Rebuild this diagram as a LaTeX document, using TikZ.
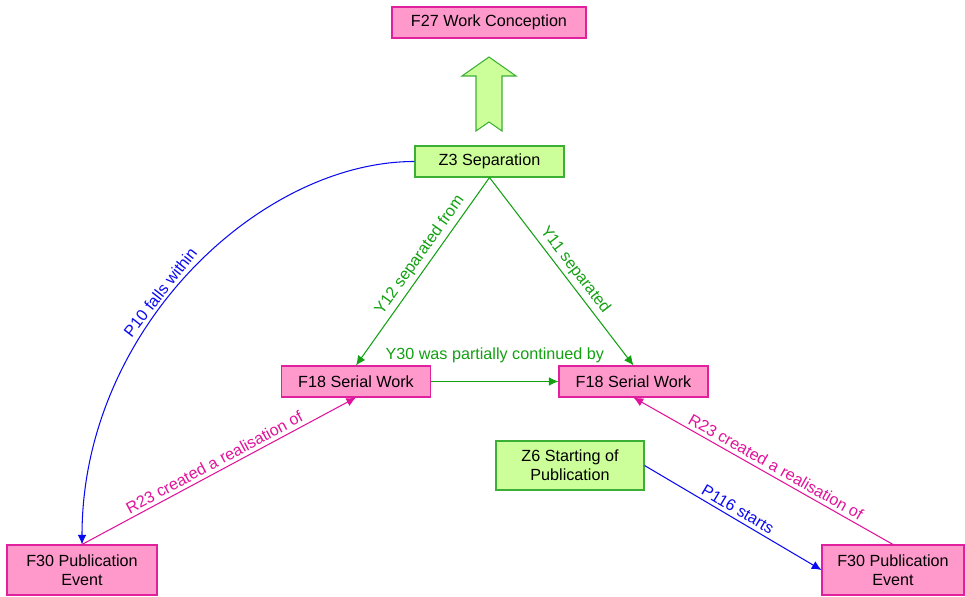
\documentclass[tikz,border=0pt]{standalone}
\usepackage{fontspec}
\setmainfont{Liberation Sans}
\usetikzlibrary{arrows.meta}
\definecolor{fpink}{HTML}{FF99CC}
\definecolor{fpinkline}{HTML}{E0209C}
\definecolor{zgreen}{HTML}{CCFF99}
\definecolor{zgreenline}{HTML}{3CB035}
\definecolor{relgreen}{HTML}{12A012}
\definecolor{relpink}{HTML}{E0139A}
\definecolor{relblue}{HTML}{0A0AF0}
\tikzset{
	entity/.style={line width=0.6pt, inner sep=0pt, align=center, font=\fontsize{9.2}{11}\selectfont},
	fbox/.style={entity, draw=fpinkline, fill=fpink},
	zbox/.style={entity, draw=zgreenline, fill=zgreen},
	rel/.style={-{Latex[length=5.5pt,width=5pt]}, line width=0.6pt},
	rellabel/.style={font=\fontsize{9.2}{11}\selectfont, sloped, above, inner sep=2pt}
}

\begin{document}
\begin{tikzpicture}[x=0.02cm, y=-0.02cm]
		%%%%% START %%%%%
		\useasboundingbox (0, 0) rectangle (965, 597);
		
		\node[fbox, minimum width=3.88cm, minimum height=0.62cm] (f27) at (489, 22.5) {F27 Work Conception};
		\node[zbox, minimum width=2.98cm, minimum height=0.62cm] (z3) at (489.5, 161.5) {Z3 Separation};
		\node[fbox, minimum width=2.98cm, minimum height=0.62cm] (f18a) at (356, 381.5) {F18 Serial Work};
		\node[fbox, minimum width=2.98cm, minimum height=0.62cm] (f18b) at (633.5, 381.5) {F18 Serial Work};
		\node[zbox, minimum width=2.96cm, minimum height=0.98cm] (z6) at (570, 465.5) {Z6 Starting of\\Publication};
		\node[fbox, minimum width=3.0cm, minimum height=1.0cm] (f30a) at (82, 570) {F30 Publication\\Event};
		\node[fbox, minimum width=2.84cm, minimum height=1.0cm] (f30b) at (893, 570) {F30 Publication\\Event};
		
		% big arrow up to the conception
		\draw[line width=0.6pt, draw=zgreenline, fill=zgreen] (489, 57) -- (516, 76) -- (502, 76) -- (502, 131) -- (489, 122)
			-- (476, 131) -- (476, 76) -- (462, 76) -- cycle;
		
		\draw[rel, relgreen] (z3.south) -- node[rellabel, pos=0.45] {Y12 separated from} (f18a.north);
		\draw[rel, relgreen] (z3.south) -- node[rellabel, pos=0.53] {Y11 separated} (f18b.north);
		\draw[rel, relgreen] (f18a.east) -- node[font=\fontsize{9.2}{11}\selectfont, above=7pt] {Y30 was partially continued by} (f18b.west);
		
		\draw[rel, relblue] (z3.west) .. controls +(-155, 0) and +(0, -215) .. node[rellabel, pos=0.56] {P10 falls within} (f30a.north);
		\draw[rel, relpink] (f30a.north) -- node[rellabel, pos=0.5] {R23 created a realisation of} (f18a.south);
		\draw[rel, relpink] (f30b.north) -- node[rellabel, pos=0.47] {R23 created a realisation of} (f18b.south);
		\draw[rel, relblue] (z6.east) -- node[rellabel, pos=0.5] {P116 starts} (f30b.west);
		
		%%%%% END %%%%%
	\end{tikzpicture}
\end{document}
